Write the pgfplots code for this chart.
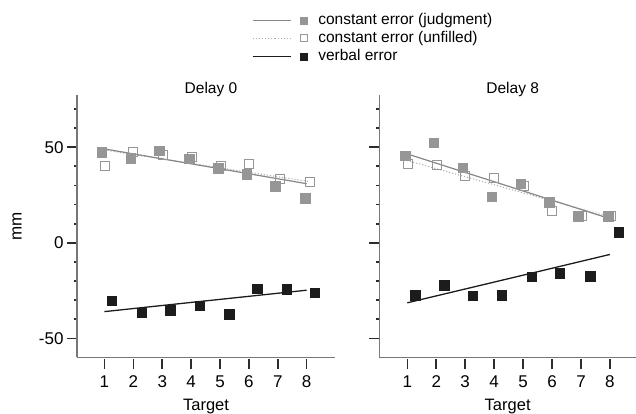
\documentclass[border=0pt]{standalone}
\usepackage{fontspec}
\setmainfont{Liberation Sans}
\usepackage{pgfplots}
\pgfplotsset{compat=1.18}

\definecolor{cjud}{RGB}{150,150,150}
\definecolor{cjudline}{RGB}{135,135,135}
\definecolor{cunf}{RGB}{150,150,150}
\definecolor{cunfline}{RGB}{175,175,175}
\definecolor{cverb}{RGB}{28,28,28}
\definecolor{caxis}{RGB}{120,120,120}
\definecolor{ctick}{RGB}{45,45,45}

\pgfplotsset{
  panel/.style={
    scale only axis, height=262.9pt,
    ymin=-60, ymax=77.5,
    axis x line*=bottom, axis y line*=left,
    axis line style={caxis, line width=1.3pt},
    xtick={1,...,8}, ytick={-50,0,50},
    minor ytick={-40,-30,-20,-10,10,20,30,40,60,70},
    tick align=outside,
    major tick length=10pt, minor tick length=3pt,
    major tick style={ctick, line width=1.6pt},
    minor tick style={ctick, line width=1.8pt},
    xtick style={yshift=-1.5pt},
    tick label style={font=\fontsize{17}{20}\selectfont},
    xticklabel style={yshift=-5pt},
    /pgf/number format/assume math mode=true,
    title style={font=\fontsize{15.5}{18}\selectfont, at={(0.5,1)}, anchor=center, yshift=-1pt, xshift=5pt},
    xlabel style={font=\fontsize{16.5}{19}\selectfont, at={(0.5,0)}, anchor=center, yshift=-49.5pt},
    clip=false,
    judg/.style={only marks, mark=square*, mark size=4.75pt, mark options={draw=cjud, fill=cjud}, forget plot},
    unf/.style={only marks, mark=square, mark size=4.5pt, mark options={draw=cunf, fill=white, line width=1pt}, forget plot},
    verb/.style={only marks, mark=square*, mark size=4.75pt, mark options={draw=cverb, fill=cverb}, forget plot},
    judgline/.style={no marks, cjudline, line width=1.2pt, forget plot},
    unfline/.style={no marks, cunfline, line width=1.1pt, dotted, forget plot},
    verbline/.style={no marks, cverb, line width=1.3pt, forget plot},
  }
}

\begin{document}
\begin{tikzpicture}
\useasboundingbox (0pt,0pt) rectangle (636pt,414pt);

\begin{axis}[panel, at={(77pt,56.5pt)}, anchor=south west,
  width=258pt, xmin=0.05, xmax=8.98,
  title={Delay 0}, xlabel={Target}, ylabel={mm},
  ylabel style={font=\fontsize{17}{20}\selectfont, at={(axis description cs:-0.2326,0.4975)}, anchor=center, rotate=0},
  legend style={draw=none, fill=none, inner sep=0pt, at={(axis description cs:0.678,1.311)}, anchor=north west,
    font=\fontsize{15.5}{18}\selectfont, row sep=3.5pt,
    nodes={inner sep=0pt, text height=11pt, text depth=3.5pt},
    /tikz/every odd column/.append style={column sep=11pt}},
  legend cell align=left]
\addplot[unf] coordinates {(1.02,40.3)(2.0,47.7)(3.04,46.0)(4.02,45.1)(5.04,39.9)(6.0,41.3)(7.08,33.5)(8.1,31.8)};
\addplot[judg] coordinates {(0.9,47.4)(1.91,44.3)(2.9,48.1)(3.93,43.9)(4.94,39.0)(5.92,35.8)(6.91,29.5)(7.94,23.3)};
\addplot[unfline] coordinates {(1,48.5)(8.1,32.0)};
\addplot[judgline] coordinates {(1,49.1)(8,30.9)};
\addplot[verb] coordinates {(1.25,-30.4)(2.29,-36.5)(3.27,-35.3)(4.29,-33.0)(5.32,-37.3)(6.29,-24.0)(7.3,-24.3)(8.28,-26.0)};
\addplot[verbline] coordinates {(1,-36.0)(8,-24.8)};

\addlegendimage{legend image code/.code={
  \draw[cjudline, line width=1.2pt] (0pt,0pt) -- (38pt,0pt);
  \path[draw=cjud, fill=cjud] plot[mark=square*, mark size=3.5pt] coordinates {(51pt,0pt)};}}
\addlegendentry{constant error (judgment)}
\addlegendimage{legend image code/.code={
  \draw[cunfline, line width=1.1pt, dotted] (0pt,0pt) -- (38pt,0pt);
  \path[draw=cunf, fill=white, line width=0.9pt] plot[mark=square, mark size=3.4pt] coordinates {(51pt,0pt)};}}
\addlegendentry{constant error (unfilled)}
\addlegendimage{legend image code/.code={
  \draw[cverb, line width=1.3pt] (0pt,0pt) -- (38pt,0pt);
  \path[draw=cverb, fill=cverb] plot[mark=square*, mark size=3.5pt] coordinates {(51pt,0pt)};}}
\addlegendentry{verbal error}
\end{axis}

\begin{axis}[panel, at={(379.3pt,56.5pt)}, anchor=south west,
  width=256.7pt, xmin=0.033, xmax=8.9,
  yticklabels={}, title={Delay 8}, xlabel={Target}]
\addplot[unf] coordinates {(1.03,41.3)(2.01,40.8)(2.99,34.7)(3.99,33.8)(5.03,29.8)(6.0,16.8)(7.04,13.9)(8.03,13.9)};
\addplot[judg] coordinates {(0.92,45.5)(1.92,52.4)(2.91,39.2)(3.91,24.0)(4.91,30.9)(5.9,21.2)(6.9,13.9)(7.94,13.9)};
\addplot[unfline] coordinates {(1,43.0)(8,13.5)};
\addplot[judgline] coordinates {(0.95,46.7)(8,12.6)};
\addplot[verb] coordinates {(1.27,-27.3)(2.27,-22.1)(3.26,-27.8)(4.26,-27.3)(5.29,-17.7)(6.27,-16.0)(7.31,-17.4)(8.31,5.5)};
\addplot[verbline] coordinates {(1,-31.4)(8,-6.1)};
\end{axis}
\end{tikzpicture}
\end{document}
